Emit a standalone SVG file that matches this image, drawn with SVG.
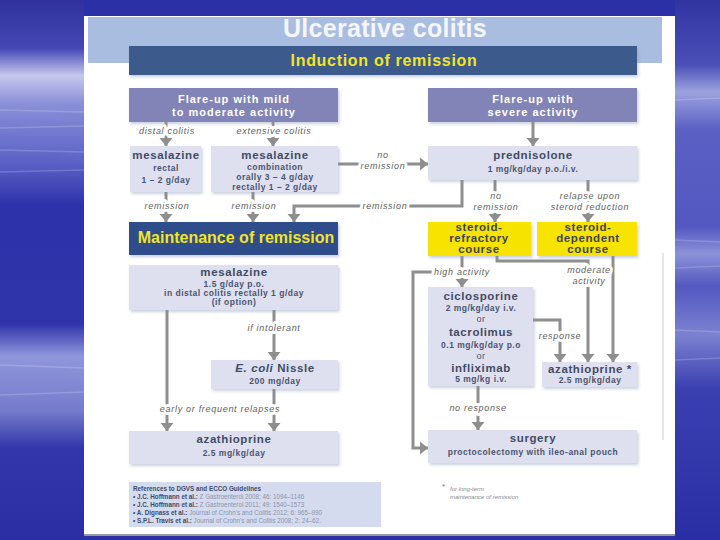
<svg xmlns="http://www.w3.org/2000/svg" width="720" height="540" viewBox="0 0 720 540">
<defs>
<linearGradient id="bgL" x1="0" y1="0" x2="0" y2="1">
<stop offset="0" stop-color="#2f309c"/>
<stop offset="0.09" stop-color="#4548b4"/>
<stop offset="0.14" stop-color="#c6c8ec"/>
<stop offset="0.19" stop-color="#8b90d8"/>
<stop offset="0.3" stop-color="#5c62c6"/>
<stop offset="0.38" stop-color="#2e32aa"/>
<stop offset="0.6" stop-color="#3034aa"/>
<stop offset="0.66" stop-color="#9096da"/>
<stop offset="0.76" stop-color="#767ccc"/>
<stop offset="0.83" stop-color="#3236aa"/>
<stop offset="1" stop-color="#2a2ea2"/>
</linearGradient>
<linearGradient id="bgR" x1="0" y1="0" x2="0" y2="1">
<stop offset="0" stop-color="#3034a0"/>
<stop offset="0.12" stop-color="#4a50b8"/>
<stop offset="0.17" stop-color="#9ca2de"/>
<stop offset="0.24" stop-color="#5a60c4"/>
<stop offset="0.42" stop-color="#5258c0"/>
<stop offset="0.47" stop-color="#8c92d8"/>
<stop offset="0.53" stop-color="#5258c0"/>
<stop offset="0.62" stop-color="#7c82d0"/>
<stop offset="0.72" stop-color="#3a40b0"/>
<stop offset="1" stop-color="#2a2ea4"/>
</linearGradient>
<filter id="sh" x="-10%" y="-20%" width="125%" height="150%">
<feDropShadow dx="1.5" dy="2" stdDeviation="1.5" flood-color="#8a96b8" flood-opacity="0.45"/>
</filter>
<marker id="ah" markerUnits="userSpaceOnUse" markerWidth="14" markerHeight="14" refX="8" refY="7" orient="auto">
<path d="M0,0.5 L8,7 L0,13.5 Z" fill="#8e8e8e"/>
</marker>
<style>
.t{font-family:"Liberation Sans",Arial,sans-serif;text-anchor:middle}
.conn{fill:none;stroke:#8e8e8e;stroke-width:3}
.lbl{font-family:"Liberation Sans",Arial,sans-serif;font-style:italic;font-size:9px;fill:#606060;letter-spacing:0.7px;text-anchor:middle;paint-order:stroke;stroke:#fff;stroke-width:6px;stroke-linejoin:round}
.lb{fill:#dfe0ef;filter:url(#sh)}
.fl{fill:#8283b6;filter:url(#sh)}
.yl{fill:#f7e300;filter:url(#sh)}
.db{fill:#3d5a8c;filter:url(#sh)}
.h{font-weight:bold;font-size:11.5px;letter-spacing:0.6px;fill:#414b66}
.b{font-weight:bold;font-size:8.5px;letter-spacing:0.5px;fill:#4a5470}
.ft{font-weight:bold;font-size:11px;letter-spacing:1px;fill:#fff}
.yt{font-weight:bold;font-size:11.5px;letter-spacing:0.6px;fill:#3e4456}
.ref{font-family:"Liberation Sans",Arial,sans-serif;font-size:6.3px;fill:#8d93ab}
.refb{font-weight:bold;fill:#3f4966}
</style>
</defs>

<!-- slide background -->
<rect x="0" y="0" width="720" height="540" fill="#2c30a6"/>
<rect x="0" y="0" width="84" height="540" fill="url(#bgL)"/>
<rect x="675" y="0" width="45" height="540" fill="url(#bgR)"/>
<g stroke="#ffffff" stroke-opacity="0.18" stroke-width="1.5">
<line x1="0" y1="110" x2="84" y2="112"/>
<line x1="0" y1="128" x2="84" y2="126"/>
<line x1="0" y1="150" x2="84" y2="152"/>
<line x1="0" y1="172" x2="84" y2="170"/>
<line x1="0" y1="365" x2="84" y2="368"/>
<line x1="0" y1="395" x2="84" y2="392"/>
<line x1="675" y1="100" x2="720" y2="98"/>
<line x1="675" y1="240" x2="720" y2="242"/>
<line x1="675" y1="268" x2="720" y2="266"/>
<line x1="675" y1="330" x2="720" y2="332"/>
<line x1="675" y1="360" x2="720" y2="358"/>
</g>

<!-- page -->
<rect x="84" y="16" width="591" height="520" fill="#ffffff"/>
<rect x="84" y="534" width="591" height="2" fill="#9a9a9a"/>
<rect x="88" y="17" width="574" height="46" fill="#a9bde0"/>
<line x1="663" y1="253" x2="663" y2="440" stroke="#d0d0d0" stroke-width="1"/>
<text x="385" y="37" class="t" font-weight="bold" font-size="25" fill="#f4f6fb" letter-spacing="0.3">Ulcerative colitis</text>

<g id="induction">
<rect x="129" y="46" width="508" height="29" class="db"/>
<text x="384" y="66" class="t" font-weight="bold" font-size="16" fill="#f2e526" letter-spacing="0.7">Induction of remission</text>
</g>

<!-- connectors -->
<g id="connectors">
<path class="conn" d="M166,122 V146" marker-end="url(#ah)"/>
<path class="conn" d="M273,122 V146" marker-end="url(#ah)"/>
<path class="conn" d="M533,122 V146" marker-end="url(#ah)"/>
<path class="conn" d="M338,164 H428" marker-end="url(#ah)"/>
<path class="conn" d="M166,192 V222" marker-end="url(#ah)"/>
<path class="conn" d="M253,192 V222" marker-end="url(#ah)"/>
<path class="conn" d="M462,180 V206 H294 V222" marker-end="url(#ah)"/>
<path class="conn" d="M495,180 V222" marker-end="url(#ah)"/>
<path class="conn" d="M588,180 V222" marker-end="url(#ah)"/>
<path class="conn" d="M462,256 V287" marker-end="url(#ah)"/>
<path class="conn" d="M462,272 H413 V448 H428" marker-end="url(#ah)"/>
<path class="conn" d="M497,256 V261 H588 V362" marker-end="url(#ah)"/>
<path class="conn" d="M613,256 V362" marker-end="url(#ah)"/>
<path class="conn" d="M533,320 H560 V362" marker-end="url(#ah)"/>
<path class="conn" d="M478,386 V430" marker-end="url(#ah)"/>
<path class="conn" d="M167,310 V431" marker-end="url(#ah)"/>
<path class="conn" d="M274,310 V360" marker-end="url(#ah)"/>
<path class="conn" d="M274,389 V431" marker-end="url(#ah)"/>

<text class="lbl" x="167" y="134">distal colitis</text>
<text class="lbl" x="274" y="134">extensive colitis</text>
<text class="lbl" x="383" y="158">no</text>
<text class="lbl" x="383" y="169">remission</text>
<text class="lbl" x="167" y="209">remission</text>
<text class="lbl" x="254" y="209">remission</text>
<text class="lbl" x="385" y="209">remission</text>
<text class="lbl" x="496" y="199">no</text>
<text class="lbl" x="496" y="210">remission</text>
<text class="lbl" x="590" y="199">relapse upon</text>
<text class="lbl" x="590" y="210">steroid reduction</text>
<text class="lbl" x="462" y="275">high activity</text>
<text class="lbl" x="589" y="273">moderate</text>
<text class="lbl" x="589" y="284">activity</text>
<text class="lbl" x="560" y="339">response</text>
<text class="lbl" x="274" y="331">if intolerant</text>
<text class="lbl" x="220" y="412">early or frequent relapses</text>
<text class="lbl" x="478" y="411">no response</text>
</g>

<g id="flare-mild">
<rect x="129" y="88" width="209" height="34" class="fl"/>
<text class="t ft" x="234" y="103">Flare-up with mild</text>
<text class="t ft" x="234" y="116">to moderate activity</text>
</g>
<g id="flare-severe">
<rect x="428" y="88" width="209" height="34" class="fl"/>
<text class="t ft" x="533" y="103">Flare-up with</text>
<text class="t ft" x="533" y="116">severe activity</text>
</g>

<g id="mesalazine-rectal">
<rect x="130" y="146" width="71" height="46" class="lb"/>
<text class="t h" x="166" y="159">mesalazine</text>
<text class="t b" x="166" y="171">rectal</text>
<text class="t b" x="166" y="183">1 – 2 g/day</text>
</g>
<g id="mesalazine-combination">
<rect x="211" y="146" width="127" height="46" class="lb"/>
<text class="t h" x="275" y="159">mesalazine</text>
<text class="t b" x="275" y="170">combination</text>
<text class="t b" x="275" y="180">orally 3 – 4 g/day</text>
<text class="t b" x="275" y="190">rectally 1 – 2 g/day</text>
</g>
<g id="prednisolone">
<rect x="428" y="146" width="209" height="34" class="lb"/>
<text class="t h" x="533" y="159">prednisolone</text>
<text class="t b" x="533" y="172">1 mg/kg/day p.o./i.v.</text>
</g>

<g id="maintenance">
<rect x="129" y="222" width="209" height="33" class="db" style="fill:#2f4d8a"/>
<text x="236" y="243" class="t" font-weight="bold" font-size="16" fill="#f2e526">Maintenance of remission</text>
</g>

<g id="steroid-refractory">
<rect x="428" y="222" width="103" height="34" class="yl"/>
<text class="t yt" x="479" y="231">steroid-</text>
<text class="t yt" x="479" y="242">refractory</text>
<text class="t yt" x="479" y="253">course</text>
</g>
<g id="steroid-dependent">
<rect x="537" y="222" width="100" height="34" class="yl"/>
<text class="t yt" x="588" y="231">steroid-</text>
<text class="t yt" x="588" y="242">dependent</text>
<text class="t yt" x="588" y="253">course</text>
</g>

<g id="mesalazine-maintenance">
<rect x="129" y="265" width="209" height="45" class="lb"/>
<text class="t h" x="234" y="276">mesalazine</text>
<text class="t b" x="234" y="287">1.5 g/day p.o.</text>
<text class="t b" x="234" y="296">in distal colitis rectally 1 g/day</text>
<text class="t b" x="234" y="305">(if option)</text>
</g>

<g id="ecoli">
<rect x="211" y="360" width="127" height="29" class="lb"/>
<text class="t h" x="275" y="372"><tspan font-style="italic">E. coli</tspan> Nissle</text>
<text class="t b" x="275" y="384">200 mg/day</text>
</g>

<g id="azathioprine-left">
<rect x="129" y="431" width="209" height="33" class="lb"/>
<text class="t h" x="234" y="443">azathioprine</text>
<text class="t b" x="234" y="456">2.5 mg/kg/day</text>
</g>

<g id="ciclosporine">
<rect x="428" y="287" width="105" height="99" class="lb"/>
<text class="t h" x="481" y="300">ciclosporine</text>
<text class="t b" x="481" y="311">2 mg/kg/day i.v.</text>
<text class="t b" x="481" y="322" style="font-weight:normal;font-size:9px">or</text>
<text class="t h" x="481" y="336">tacrolimus</text>
<text class="t b" x="481" y="348">0.1 mg/kg/day p.o</text>
<text class="t b" x="481" y="359" style="font-weight:normal;font-size:9px">or</text>
<text class="t h" x="481" y="372">infliximab</text>
<text class="t b" x="481" y="382">5 mg/kg i.v.</text>
</g>

<g id="azathioprine-right">
<rect x="542" y="362" width="95" height="25" class="lb"/>
<text class="t h" x="590" y="373">azathioprine *</text>
<text class="t b" x="590" y="383">2.5 mg/kg/day</text>
</g>

<g id="surgery">
<rect x="428" y="430" width="209" height="33" class="lb"/>
<text class="t h" x="533" y="442">surgery</text>
<text class="t b" x="533" y="455">proctocolectomy with ileo-anal pouch</text>
</g>

<g id="references">
<rect x="129" y="482" width="252" height="45" fill="#d4dbee"/>
<text class="ref" x="133" y="491"><tspan class="refb">References to DGVS and ECCO Guidelines</tspan></text>
<text class="ref" x="133" y="499"><tspan class="refb">• J.C. Hoffmann et al.:</tspan> Z Gastroenterol 2008; 46: 1094–1146</text>
<text class="ref" x="133" y="507"><tspan class="refb">• J.C. Hoffmann et al.:</tspan> Z Gastroenterol 2011; 49: 1540–1573</text>
<text class="ref" x="133" y="515"><tspan class="refb">• A. Dignass et al.:</tspan> Journal of Crohn's and Colitis 2012; 6: 965–990</text>
<text class="ref" x="133" y="523"><tspan class="refb">• S.P.L. Travis et al.:</tspan> Journal of Crohn's and Colitis 2008; 2: 24–62.</text>
</g>

<g id="footnote">
<text x="442" y="489" font-family="Liberation Sans, Arial, sans-serif" font-size="8" fill="#777">*</text>
<text x="450" y="491" font-family="Liberation Sans, Arial, sans-serif" font-size="6" font-style="italic" fill="#888">for long-term</text>
<text x="450" y="499" font-family="Liberation Sans, Arial, sans-serif" font-size="6" font-style="italic" fill="#888">maintenance of remission</text>
</g>
</svg>
